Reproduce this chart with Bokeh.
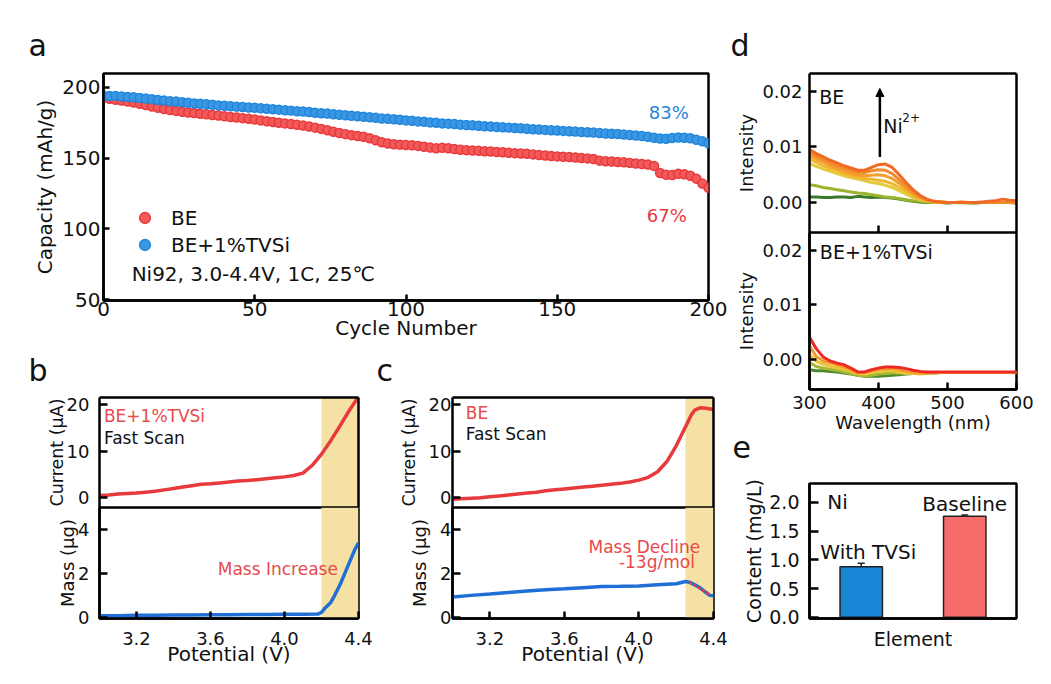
from bokeh.plotting import figure
from bokeh.layouts import row, column
from bokeh.models import (Range1d, FixedTicker, PrintfTickFormatter, CustomJSTickFormatter, Label, Legend,
                          LegendItem, BoxAnnotation, Arrow, NormalHead, Whisker, TeeHead,
                          ColumnDataSource, LinearAxis)
from bokeh.embed import file_html
from bokeh.resources import INLINE

FONT = "DejaVu Sans"
INK = "#111111"
RED = "#e8393c"
RED_TXT = "#e84a4c"
BLUE = "#1f86dc"
BLUE_LINE = "#1f6fd6"
SHADE = "#f5e1a3"

# ---------------- panel a: cycling ----------------
cycles = [0, 2, 4, 6, 8, 10, 12, 14, 16, 18, 20, 22, 24, 26, 28, 30, 32, 34, 36, 38, 40,
          42, 44, 46, 48, 50, 52, 54, 56, 58, 60, 62, 64, 66, 68, 70, 72, 74, 76, 78, 80,
          82, 84, 86, 88, 90, 92, 94, 96, 98, 100, 102, 104, 106, 108, 110, 112, 114, 116, 118, 120,
          122, 124, 126, 128, 130, 132, 134, 136, 138, 140, 142, 144, 146, 148, 150, 152, 154, 156, 158, 160,
          162, 164, 166, 168, 170, 172, 174, 176, 178, 180, 182, 184, 186, 188, 190, 192, 194, 196, 198, 200]
cap_tvsi = [194.0, 193.8, 193.9, 193.5, 193.2, 192.9, 192.4, 192.0, 191.5, 191.0, 190.6,
            190.2, 189.9, 189.4, 189.0, 188.6, 188.3, 188.0, 187.6, 187.2, 187.0,
            186.6, 186.3, 186.0, 185.7, 185.5, 185.1, 184.8, 184.5, 184.2, 183.8,
            183.5, 183.1, 182.8, 182.5, 182.0, 181.6, 181.4, 181.0, 180.6, 180.2,
            179.9, 179.5, 179.2, 178.8, 178.4, 178.0, 177.7, 177.4, 177.0, 176.6,
            176.3, 175.9, 175.6, 175.2, 174.9, 174.5, 174.3, 174.0, 173.6, 173.3,
            173.1, 172.8, 172.5, 172.3, 172.0, 171.7, 171.5, 171.2, 171.0, 170.7,
            170.4, 170.2, 169.9, 169.7, 169.5, 169.2, 168.9, 168.7, 168.4, 168.2,
            168.0, 167.7, 167.4, 167.2, 167.0, 166.6, 166.3, 166.0, 165.6, 165.0,
            164.4, 163.8, 163.6, 164.2, 164.5, 164.3, 164.0, 163.0, 161.8, 160.5]
cap_be = [192.5, 191.8, 191.2, 190.6, 190.0, 189.2, 188.3, 187.4, 186.4, 185.5, 184.7,
          184.0, 183.3, 182.7, 182.2, 181.8, 181.3, 180.9, 180.4, 180.0, 179.5,
          179.0, 178.6, 178.2, 177.7, 177.2, 176.6, 176.0, 175.5, 175.0, 174.5,
          174.0, 173.5, 173.0, 172.3, 171.5, 170.6, 169.6, 168.6, 167.7, 166.9,
          166.2, 165.6, 165.0, 164.0, 162.6, 161.2, 160.3, 159.8, 159.5, 159.3,
          159.0, 158.6, 158.0, 157.4, 157.0, 157.3, 157.0, 156.4, 155.9, 155.6,
          155.4, 155.1, 154.8, 154.6, 154.3, 154.1, 153.8, 153.5, 153.3, 153.0,
          152.6, 152.2, 151.8, 151.5, 151.2, 151.0, 150.7, 150.4, 150.1, 149.8,
          149.3, 148.2, 147.8, 147.6, 147.3, 147.0, 146.6, 146.2, 145.8, 145.4,
          144.5, 139.5, 138.2, 138.0, 139.0, 138.6, 137.5, 135.5, 132.0, 129.0]
a_xticks = [0, 50, 100, 150, 200]
a_yticks = [50, 100, 150, 200]

# ---------------- panel b: BE+1%TVSi fast scan ----------------
volt_b = [3.00, 3.05, 3.10, 3.15, 3.20, 3.25, 3.30, 3.35, 3.40, 3.45, 3.50, 3.55, 3.60, 3.65, 3.70,
          3.75, 3.80, 3.85, 3.90, 3.95, 4.00, 4.05, 4.10, 4.15, 4.20, 4.25, 4.30, 4.35, 4.40]
cur_b = [0.5, 0.6, 0.8, 0.9, 1.0, 1.2, 1.4, 1.7, 2.0, 2.3, 2.6, 2.9, 3.0, 3.2, 3.4,
         3.6, 3.7, 3.9, 4.1, 4.3, 4.5, 4.8, 5.3, 7.0, 9.4, 12.3, 15.5, 18.8, 21.8]
volt_bm = [3.00, 3.10, 3.20, 3.30, 3.40, 3.50, 3.60, 3.70, 3.80, 3.90, 4.00, 4.10, 4.18,
           4.20, 4.22, 4.25, 4.27, 4.30, 4.33, 4.36, 4.38, 4.40]
mass_b = [0.10, 0.10, 0.12, 0.12, 0.13, 0.13, 0.14, 0.14, 0.15, 0.15, 0.16, 0.16, 0.17,
          0.25, 0.45, 0.70, 1.00, 1.50, 2.10, 2.70, 3.10, 3.40]
shade_b = (4.20, 4.40)

# ---------------- panel c: BE fast scan ----------------
volt_c = [3.00, 3.05, 3.10, 3.15, 3.20, 3.25, 3.30, 3.35, 3.40, 3.45, 3.50, 3.55, 3.60, 3.65, 3.70,
          3.75, 3.80, 3.85, 3.90, 3.95, 4.00, 4.05, 4.10, 4.15, 4.20, 4.25, 4.28, 4.30, 4.33, 4.36, 4.40]
cur_c = [-0.3, -0.2, -0.1, 0.0, 0.2, 0.4, 0.6, 0.8, 1.0, 1.2, 1.5, 1.7, 1.9, 2.1, 2.3,
         2.5, 2.7, 2.9, 3.1, 3.4, 3.8, 4.4, 5.6, 7.8, 11.2, 15.3, 17.8, 18.9, 19.4, 19.3, 19.0]
volt_cm = [3.00, 3.10, 3.20, 3.30, 3.40, 3.50, 3.60, 3.70, 3.80, 3.90, 4.00, 4.10, 4.20,
           4.25, 4.27, 4.30, 4.33, 4.36, 4.38, 4.40]
mass_c = [0.95, 1.02, 1.08, 1.15, 1.22, 1.28, 1.32, 1.37, 1.42, 1.43, 1.45, 1.50, 1.55,
          1.65, 1.62, 1.50, 1.35, 1.15, 1.02, 1.00]
fit_v = [4.27, 4.38]
fit_m = [1.62, 1.05]
shade_c = (4.25, 4.40)
bc_xticks = [3.2, 3.6, 4.0, 4.4]
cur_ticks = [0, 10, 20]
mass_ticks = [0, 2, 4]

# ---------------- panel d: UV-vis (values in 1e-3) ----------------
wavelength = [300, 310, 320, 330, 340, 350, 360, 370, 380, 390, 400, 410, 420, 430, 440, 450,
              460, 470, 480, 490, 500, 510, 520, 530, 540, 550, 560, 570, 580, 590, 600]
be_spectra = [
    [1.0, 1.0, 0.9, 0.9, 1.0, 1.0, 0.9, 1.1, 1.0, 0.9, 1.0, 0.9, 0.8, 0.6, 0.4, 0.2,
     0.1, 0.0, 0.0, 0.0, -0.1, 0.0, 0.0, 0.0, -0.1, 0.0, 0.0, 0.0, 0.0, 0.0, -0.1],
    [3.2, 3.0, 2.7, 2.5, 2.3, 2.1, 1.9, 1.7, 1.6, 1.4, 1.2, 1.0, 0.9, 0.7, 0.5, 0.3,
     0.2, 0.1, 0.0, 0.0, 0.0, 0.0, 0.0, -0.1, 0.0, 0.0, 0.0, 0.0, 0.0, 0.0, 0.0],
    [7.0, 6.5, 6.0, 5.6, 5.2, 4.8, 4.5, 4.2, 3.9, 3.6, 3.4, 3.1, 2.7, 2.1, 1.5, 0.9,
     0.5, 0.2, 0.1, 0.0, 0.0, 0.0, -0.1, 0.0, 0.0, 0.0, 0.0, 0.0, 0.0, 0.0, -0.1],
    [7.8, 7.2, 6.6, 6.1, 5.7, 5.2, 4.8, 4.5, 4.3, 4.2, 4.0, 3.8, 3.4, 2.7, 2.0, 1.2,
     0.6, 0.3, 0.1, 0.0, 0.0, 0.0, 0.0, 0.0, -0.1, 0.0, 0.0, 0.0, 0.0, 0.0, 0.0],
    [8.4, 7.8, 7.2, 6.6, 6.1, 5.6, 5.2, 4.9, 4.8, 4.9, 5.0, 4.8, 4.3, 3.4, 2.5, 1.6,
     0.9, 0.4, 0.2, 0.1, 0.0, 0.0, 0.0, 0.0, 0.0, 0.0, 0.0, 0.0, 0.0, 0.0, 0.0],
    [9.0, 8.3, 7.7, 7.1, 6.6, 6.1, 5.7, 5.4, 5.4, 5.7, 5.9, 5.8, 5.2, 4.1, 3.0, 1.9,
     1.0, 0.5, 0.2, 0.1, 0.0, 0.0, 0.0, 0.0, 0.0, 0.0, 0.0, 0.0, 0.0, 0.0, 0.0],
    [9.5, 8.8, 8.2, 7.6, 7.1, 6.6, 6.2, 5.8, 5.8, 6.3, 6.8, 6.9, 6.3, 5.0, 3.6, 2.3,
     1.3, 0.6, 0.2, 0.1, 0.0, 0.0, 0.1, 0.0, 0.0, 0.1, 0.2, 0.3, 0.6, 0.4, 0.3],
]
be_colors = ["#3b7a2c", "#9bb52f", "#e5cb3c", "#f0b830", "#f3a02c", "#f2892a", "#ef6b25"]
tvsi_spectra = [
    [-1.8, -2.0, -2.0, -2.1, -2.2, -2.4, -2.6, -2.8, -3.0, -3.0, -3.0, -2.9, -2.8, -2.7, -2.6, -2.5,
     -2.5, -2.4, -2.4, -2.3, -2.3, -2.3, -2.3, -2.3, -2.3, -2.3, -2.3, -2.3, -2.3, -2.3, -2.3],
    [-0.5, -1.2, -1.5, -1.7, -1.9, -2.2, -2.5, -2.8, -2.9, -2.8, -2.6, -2.5, -2.4, -2.4, -2.5, -2.5,
     -2.5, -2.4, -2.4, -2.3, -2.3, -2.3, -2.3, -2.3, -2.3, -2.3, -2.3, -2.3, -2.3, -2.3, -2.3],
    [1.0, -0.3, -0.8, -1.2, -1.4, -1.7, -2.1, -2.5, -2.6, -2.3, -2.1, -2.0, -2.0, -2.2, -2.4, -2.5,
     -2.6, -2.5, -2.4, -2.3, -2.3, -2.3, -2.3, -2.3, -2.3, -2.3, -2.3, -2.3, -2.3, -2.3, -2.3],
    [2.5, 0.6, -0.2, -0.6, -0.9, -1.3, -1.8, -2.3, -2.3, -2.0, -1.7, -1.6, -1.6, -1.8, -2.1, -2.3,
     -2.4, -2.4, -2.3, -2.3, -2.3, -2.3, -2.3, -2.3, -2.3, -2.3, -2.3, -2.3, -2.3, -2.3, -2.3],
    [4.1, 2.0, 0.5, -0.2, -0.6, -0.9, -1.5, -2.2, -2.2, -1.8, -1.5, -1.3, -1.3, -1.4, -1.6, -1.9,
     -2.1, -2.2, -2.2, -2.2, -2.2, -2.2, -2.2, -2.2, -2.2, -2.2, -2.2, -2.2, -2.2, -2.2, -2.2],
]
tvsi_colors = ["#4f8a2c", "#a8b832", "#eec53a", "#f39a2c", "#ee2a24"]
d_xticks = [300, 400, 500, 600]
d_inner_xticks = [400, 500]
d_yticks = [0.0, 0.01, 0.02]
ni_arrow = (402, 0.0082, 0.0205)

# ---------------- panel e: ICP Ni content ----------------
e_labels = ["With TVSi", "Baseline"]
e_pos = [0.25, 0.75]
e_values = [0.88, 1.76]
e_errors = [0.06, 0.02]
e_colors = ["#1a86d6", "#f86c6c"]
e_yticks = [0.0, 0.5, 1.0, 1.5, 2.0]

BLANK = CustomJSTickFormatter(code="return '';")


def make_fig(w, h, xr, yr, bl, br, bt, bb, outline=True):
    p = figure(width=w, height=h, x_range=Range1d(*xr), y_range=Range1d(*yr),
               x_axis_location=None, y_axis_location=None,
               output_backend="svg", toolbar_location=None,
               min_border_left=bl, min_border_right=br, min_border_top=bt, min_border_bottom=bb,
               background_fill_color="white", border_fill_color="white")
    p.grid.grid_line_color = None
    p.grid.visible = False
    if outline:
        p.outline_line_color = "black"
        p.outline_line_width = 2.5
        p.outline_line_alpha = 1.0
    else:
        p.outline_line_color = None
    return p


def add_axis(p, side, ticks, fmt=None, tick_size="18px", standoff=3, label=None, label_size="18px",
             label_standoff=2, tick_in=7, show_labels=True, show_line=True):
    ax = LinearAxis()
    ax.ticker = FixedTicker(ticks=ticks, minor_ticks=[])
    if fmt:
        ax.formatter = PrintfTickFormatter(format=fmt)
    ax.major_tick_in = tick_in
    ax.major_tick_out = 0
    ax.minor_tick_in = 0
    ax.minor_tick_out = 0
    ax.axis_line_width = 2.5
    ax.axis_line_color = "black" if show_line else None
    ax.major_tick_line_width = 2.5
    ax.major_label_text_font = FONT
    ax.major_label_text_color = INK
    ax.major_label_standoff = standoff
    if show_labels:
        ax.major_label_text_font_size = tick_size
    else:
        ax.formatter = BLANK
        ax.major_label_text_font_size = "1px"
        ax.major_label_standoff = 0
    if label:
        ax.axis_label = label
        ax.axis_label_text_font = FONT
        ax.axis_label_text_font_size = label_size
        ax.axis_label_text_font_style = "normal"
        ax.axis_label_text_color = INK
        ax.axis_label_standoff = label_standoff
    p.add_layout(ax, side)
    return ax


def edge_line(p, side, tick):
    # plain frame edge: an axis with a zero-length tick and a blank label
    add_axis(p, side, [tick], tick_in=0, show_labels=False)


def txt(p, x, y, s, size="17px", color=INK, align="left"):
    p.add_layout(Label(x=x, y=y, text=s, text_font=FONT, text_font_size=size, text_color=color,
                       text_align=align, text_baseline="middle"))


def panel_letter(p, s, offset, standoff, valign="bottom", where="above"):
    p.title_location = where
    p.title.text = s
    p.title.align = "left"
    p.title.offset = offset
    p.title.standoff = standoff
    p.title.text_font = FONT
    p.title.text_font_size = "30px"
    p.title.text_font_style = "normal"
    p.title.text_color = INK
    p.title.vertical_align = valign


# ================= panel a =================
pa = make_fig(730, 345, (0, 200), (49.5, 209.7), 103, 22, 73, 45)
add_axis(pa, "below", a_xticks, tick_size="20px", standoff=1, label="Cycle Number",
         label_size="20px", label_standoff=-3, tick_in=6)
add_axis(pa, "left", a_yticks, tick_size="20px", standoff=3, label="Capacity (mAh/g)",
         label_size="20px", label_standoff=2, tick_in=6)
r_be = pa.scatter(cycles, cap_be, size=9, fill_color="#f25a5a", line_color="#e8393c", line_width=1.5)
r_tv = pa.scatter(cycles, cap_tvsi, size=9, fill_color="#3b97e4", line_color="#1f86dc", line_width=1.5)
leg = Legend(items=[LegendItem(label="BE", renderers=[r_be]),
                    LegendItem(label="BE+1%TVSi", renderers=[r_tv])],
             location=(28, 42), glyph_width=27, glyph_height=27, label_height=27, label_width=20,
             spacing=0, padding=0, margin=0, label_standoff=13,
             background_fill_alpha=0, border_line_alpha=0,
             label_text_font=FONT, label_text_font_size="20px", label_text_color=INK)
pa.add_layout(leg)
txt(pa, 9.3, 68.4, "Ni92, 3.0-4.4V, 1C, 25\u2103", size="20px")
txt(pa, 186.9, 182.3, "83%", size="18px", color=BLUE, align="center")
txt(pa, 186.2, 109.4, "67%", size="18px", color=RED, align="center")
panel_letter(pa, "a", -75, 22)

# ================= panel b =================
pb1 = make_fig(376, 162, (3.0, 4.4), (-2.1, 21.6), 99, 18, 52, 0, outline=False)
pb2 = make_fig(376, 177, (3.0, 4.4), (-0.03, 5.01), 99, 18, 0, 66)
for p in (pb1, pb2):
    p.add_layout(BoxAnnotation(left=shade_b[0], right=shade_b[1], fill_color=SHADE, fill_alpha=1.0,
                               line_alpha=0, level="underlay"))
add_axis(pb1, "left", cur_ticks, tick_size="18px", standoff=10, label="Current (\u03bcA)",
         label_size="17.5px", label_standoff=-3, tick_in=8)
edge_line(pb1, "above", 4)
edge_line(pb1, "right", 0)
edge_line(pb1, "below", 4)
add_axis(pb2, "left", mass_ticks, tick_size="18px", standoff=10, label="Mass (\u03bcg)",
         label_size="18px", label_standoff=-3, tick_in=8)
add_axis(pb2, "below", bc_xticks, fmt="%.1f", tick_size="18px", standoff=13, label="Potential (V)",
         label_size="20px", label_standoff=-6, tick_in=7)
pb1.line(volt_b, cur_b, line_color=RED, line_width=3.5)
pb2.line(volt_bm, mass_b, line_color=BLUE_LINE, line_width=3.5)
txt(pb1, 3.024, 17.6, "BE+1%TVSi", size="17px", color=RED_TXT)
txt(pb1, 3.024, 12.8, "Fast Scan", size="17px")
txt(pb2, 3.964, 2.2, "Mass Increase", size="17px", color=RED_TXT, align="center")
panel_letter(pb1, "b", -71, 15, valign="top")

# ================= panel c =================
pc1 = make_fig(354, 162, (3.0, 4.4), (-2.1, 21.6), 76, 17, 52, 0, outline=False)
pc2 = make_fig(354, 177, (3.0, 4.4), (-0.03, 5.01), 76, 17, 0, 66)
for p in (pc1, pc2):
    p.add_layout(BoxAnnotation(left=shade_c[0], right=shade_c[1], fill_color=SHADE, fill_alpha=1.0,
                               line_alpha=0, level="underlay"))
add_axis(pc1, "left", cur_ticks, tick_size="18px", standoff=1, label="Current (\u03bcA)",
         label_size="17.5px", label_standoff=7, tick_in=8)
edge_line(pc1, "above", 4)
edge_line(pc1, "right", 0)
edge_line(pc1, "below", 4)
add_axis(pc2, "left", mass_ticks, tick_size="18px", standoff=1, label="Mass (\u03bcg)",
         label_size="18px", label_standoff=7, tick_in=8)
add_axis(pc2, "below", bc_xticks, fmt="%.1f", tick_size="18px", standoff=13, label="Potential (V)",
         label_size="20px", label_standoff=-6, tick_in=7)
pc1.line(volt_c, cur_c, line_color=RED, line_width=3.5)
pc2.line(volt_cm, mass_c, line_color=BLUE_LINE, line_width=3.5)
pc2.line(fit_v, fit_m, line_color=RED, line_width=2.5, line_dash="3 2")
txt(pc1, 3.071, 18.3, "BE", size="17px", color=RED_TXT)
txt(pc1, 3.071, 13.7, "Fast Scan", size="17px")
txt(pc2, 4.329, 3.21, "Mass Decline", size="17px", color=RED_TXT, align="right")
txt(pc2, 4.30, 2.53, "-13g/mol", size="17px", color=RED_TXT, align="right")
panel_letter(pc1, "c", -76, 15, valign="top")

# ================= panel d =================
pd1 = make_fig(321, 232, (300, 600), (-0.0054, 0.0232), 79, 35, 73, 0, outline=False)
pd2 = make_fig(321, 244, (300, 600), (-0.0054, 0.0232), 79, 35, 0, 87)
add_axis(pd1, "left", d_yticks, fmt="%.2f", tick_size="18px", standoff=7, label="Intensity",
         label_size="18px", label_standoff=2, tick_in=7)
add_axis(pd1, "below", d_inner_xticks, tick_in=7, show_labels=False)
edge_line(pd1, "above", 400)
edge_line(pd1, "right", 0)
add_axis(pd2, "left", d_yticks, fmt="%.2f", tick_size="18px", standoff=7, label="Intensity",
         label_size="18px", label_standoff=2, tick_in=7)
add_axis(pd2, "below", d_xticks, tick_size="18px", standoff=6, label="Wavelength (nm)",
         label_size="18px", label_standoff=0, tick_in=7)
for s, c in zip(be_spectra, be_colors):
    pd1.line(wavelength, [v * 1e-3 for v in s], line_color=c, line_width=3, line_join="round")
for s, c in zip(tvsi_spectra, tvsi_colors):
    pd2.line(wavelength, [v * 1e-3 for v in s], line_color=c, line_width=3, line_join="round")
pd1.add_layout(Arrow(end=NormalHead(size=8, fill_color="black", line_color="black", line_width=1),
                     x_start=ni_arrow[0], y_start=ni_arrow[1], x_end=ni_arrow[0], y_end=ni_arrow[2],
                     line_width=2.5, line_color="black"))
txt(pd1, 314, 0.0189, "BE", size="19px")
txt(pd1, 407, 0.01373, "Ni", size="19px")
txt(pd1, 434.5, 0.0153, "2+", size="12px")
txt(pd2, 315, 0.0197, "BE+1%TVSi", size="19px")
panel_letter(pd1, "d", -79, 22)
# letter of panel e sits just under the wavelength axis title
panel_letter(pd2, "e", -77, 0, valign="top", where="below")

# ================= panel e =================
pe = make_fig(321, 208, (0, 1), (-0.02, 2.33), 79, 35, 7, 66)
add_axis(pe, "left", e_yticks, fmt="%.1f", tick_size="19px", standoff=10, label="Content (mg/L)",
         label_size="19px", label_standoff=1, tick_in=9)
add_axis(pe, "below", [], tick_size="19px", standoff=0, label="Element",
         label_size="19px", label_standoff=9, tick_in=0)
esrc = ColumnDataSource(dict(x=e_pos, top=e_values, color=e_colors,
                             upper=[v + e for v, e in zip(e_values, e_errors)],
                             lower=[v - e for v, e in zip(e_values, e_errors)]))
pe.vbar(x="x", top="top", width=0.205, bottom=0, fill_color="color", line_color="#222222",
        line_width=1.5, source=esrc)
pe.add_layout(Whisker(base="x", upper="upper", lower="lower", source=esrc, line_width=1.5,
                      line_color="#222222",
                      upper_head=TeeHead(size=7, line_width=1.5, line_color="#222222"),
                      lower_head=TeeHead(size=7, line_width=1.5, line_color="#222222")))
txt(pe, 0.086, 2.0, "Ni", size="20px")
txt(pe, e_pos[1], 1.98, e_labels[1], size="20px", align="center")
txt(pe, 0.284, 1.13, e_labels[0], size="20px", align="center")

left = column(pa, row(column(pb1, pb2, spacing=0), column(pc1, pc2, spacing=0), spacing=0), spacing=0)
right = column(pd1, pd2, pe, spacing=0)
root = row(left, right, spacing=0)

open("out.html", "w").write(file_html(root, INLINE))
